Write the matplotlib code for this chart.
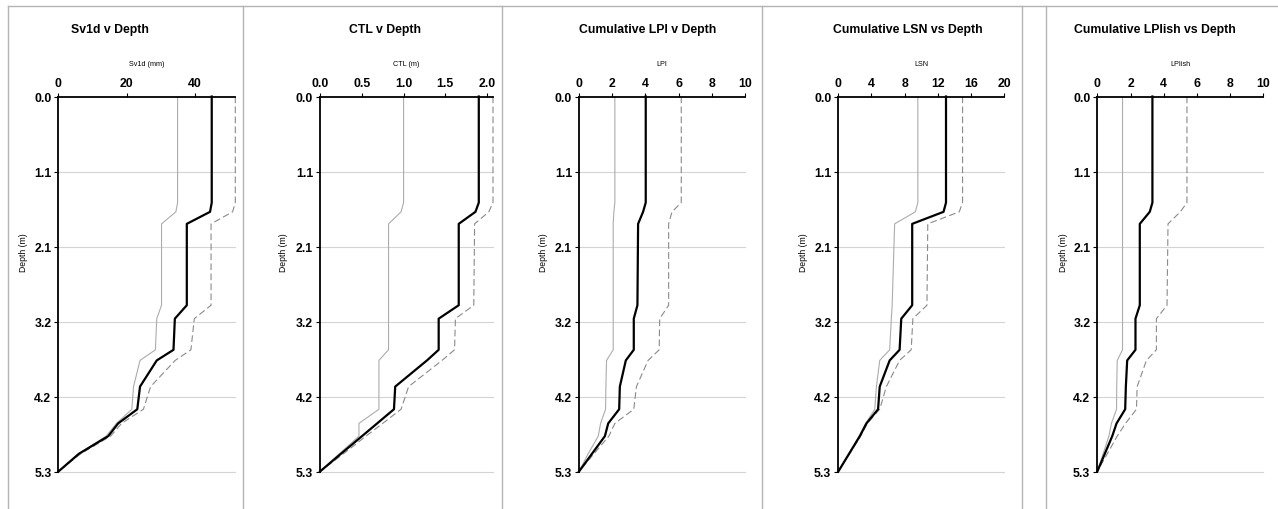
import matplotlib
matplotlib.use("Agg")
import matplotlib.pyplot as plt
from matplotlib.lines import Line2D
import numpy as np

plt.rcParams['font.family'] = ['Liberation Sans', 'DejaVu Sans']

# Depth stations (m) shared by every profile
depth = [0.0, 1.50, 1.63, 1.80, 2.95, 3.14, 3.58, 3.73, 4.10, 4.42, 4.62, 4.80, 5.05, 5.30]

# Sv1d (mm)
sv1d_mid = [44.9, 44.9, 44.4, 37.6, 37.6, 34.1, 33.7, 28.8, 23.9, 23.1, 17.5, 14.6, 6.0, 0]
sv1d_hi = [51.8, 51.8, 51.0, 44.7, 44.7, 39.8, 38.8, 34.2, 27.0, 24.9, 18.5, 15.3, 6.5, 0]
sv1d_lo = [34.9, 34.9, 34.4, 30.2, 30.2, 28.8, 28.4, 23.9, 22.0, 21.5, 17.0, 14.0, 5.8, 0]

# CTL (m)
ctl_mid = [1.90, 1.90, 1.86, 1.66, 1.66, 1.42, 1.42, 1.28, 0.90, 0.885, 0.684, 0.503, 0.25, 0]
ctl_hi = [2.07, 2.07, 2.02, 1.85, 1.84, 1.62, 1.61, 1.46, 1.06, 0.97, 0.75, 0.55, 0.28, 0]
ctl_lo = [1.00, 1.00, 0.97, 0.82, 0.82, 0.82, 0.82, 0.705, 0.705, 0.705, 0.466, 0.466, 0.23, 0]

# Cumulative LPI
lpi_mid = [4.02, 4.02, 3.86, 3.56, 3.52, 3.30, 3.30, 2.82, 2.46, 2.42, 1.76, 1.56, 0.78, 0]
lpi_hi = [6.16, 6.16, 5.60, 5.40, 5.40, 4.86, 4.83, 4.16, 3.46, 3.30, 2.16, 1.80, 0.90, 0]
lpi_lo = [2.16, 2.16, 2.10, 2.06, 2.06, 2.06, 2.06, 1.66, 1.62, 1.60, 1.30, 1.16, 0.55, 0]

# Cumulative LSN
lsn_mid = [13.0, 13.0, 12.7, 8.92, 8.92, 7.6, 7.4, 6.2, 5.0, 4.8, 3.4, 2.6, 1.3, 0]
lsn_hi = [15.0, 15.0, 14.6, 10.8, 10.7, 9.0, 8.8, 7.4, 5.8, 5.0, 3.5, 2.7, 1.35, 0]
lsn_lo = [9.6, 9.6, 9.3, 6.8, 6.5, 6.4, 6.2, 5.0, 4.6, 4.4, 3.3, 2.5, 1.25, 0]

# Cumulative LPIish
lpiish_mid = [3.32, 3.32, 3.16, 2.56, 2.56, 2.30, 2.30, 1.80, 1.72, 1.68, 1.16, 0.90, 0.45, 0]
lpiish_hi = [5.40, 5.40, 5.00, 4.26, 4.20, 3.56, 3.56, 2.96, 2.40, 2.36, 1.70, 1.20, 0.60, 0]
lpiish_lo = [1.52, 1.52, 1.52, 1.52, 1.52, 1.52, 1.52, 1.20, 1.17, 1.16, 0.85, 0.70, 0.35, 0]

titles = ["Sv1d v Depth", "CTL v Depth", "Cumulative LPI v Depth",
          "Cumulative LSN vs Depth", "Cumulative LPIish vs Depth"]
xlabels = ["Sv1d (mm)", "CTL (m)", "LPI", "LSN", "LPIish"]
xmaxes = [51.8, 2.07, 10, 20, 10]
xtick_sets = [[0, 20, 40], [0.0, 0.5, 1.0, 1.5, 2.0], [0, 2, 4, 6, 8, 10],
              [0, 4, 8, 12, 16, 20], [0, 2, 4, 6, 8, 10]]
xtick_fmt = ["{:.0f}", "{:.1f}", "{:.0f}", "{:.0f}", "{:.0f}"]
series = [(sv1d_lo, sv1d_hi, sv1d_mid), (ctl_lo, ctl_hi, ctl_mid),
          (lpi_lo, lpi_hi, lpi_mid), (lsn_lo, lsn_hi, lsn_mid),
          (lpiish_lo, lpiish_hi, lpiish_mid)]

W, H = 1278, 510
fig = plt.figure(figsize=(W / 100, H / 100), dpi=100)
fig.patch.set_facecolor("white")

# plot-area extents in pixels
ax_x = [(58.4, 235.3), (320.0, 493.0), (579.0, 745.0), (838.3, 1004.0), (1097.3, 1263.3)]
ax_top, ax_bot = 97.5, 472.5
title_x = [110, 385, 648, 908, 1155]
depth_label_x = [23, 283, 543, 803, 1063]

yt = np.linspace(0, 5.3, 6)

for i in range(5):
    x0, x1 = ax_x[i]
    ax = fig.add_axes([x0 / W, 1 - ax_bot / H, (x1 - x0) / W, (ax_bot - ax_top) / H])
    ax.set_xlim(0, xmaxes[i])
    ax.set_ylim(5.3, 0)
    ax.xaxis.tick_top()
    ax.set_xticks(xtick_sets[i])
    ax.set_xticklabels([xtick_fmt[i].format(v) for v in xtick_sets[i]],
                       fontsize=8.8, fontweight="bold")
    ax.set_yticks(yt)
    ax.set_yticklabels(["{:.1f}".format(v) for v in yt], fontsize=8.8, fontweight="bold")
    ax.tick_params(axis="both", direction="out", length=3, width=0.8, color="black", pad=2)
    ax.tick_params(axis="x", pad=2.5)
    for s in ("right", "bottom"):
        ax.spines[s].set_visible(False)
    for s in ("top", "left"):
        ax.spines[s].set_linewidth(1.3)
        ax.spines[s].set_color("black")
    for v in yt[1:]:
        ax.axhline(v, color="#d4d4d4", lw=0.8, zorder=0, clip_on=False)

    lo, hi, mid = series[i]
    ax.plot(lo, depth, color="#acacac", lw=0.8, clip_on=False, zorder=2)
    ax.plot(hi, depth, color="#8a8a8a", lw=0.8, ls=(0, (6, 3)), clip_on=False, zorder=2)
    ax.plot(mid, depth, color="black", lw=1.6, clip_on=False, zorder=3)

    fig.text(title_x[i] / W, 1 - 30 / H, titles[i], ha="center", va="center",
             fontsize=8.8, fontweight="bold")
    fig.text((x0 + x1) / 2 / W, 1 - 65 / H, xlabels[i], ha="center", va="center",
             fontsize=5.2)
    fig.text(depth_label_x[i] / W, 1 - 253 / H, "Depth (m)", ha="center", va="center",
             rotation=90, fontsize=6.2)

# panel frames
frame_color = "#b4b4b4"
for xv in (8, 243, 502, 762, 1022, 1046):
    fig.add_artist(Line2D([xv / W, xv / W], [0, 1 - 7 / H], color=frame_color, lw=1.0))
fig.add_artist(Line2D([8 / W, 1], [1 - 7 / H, 1 - 7 / H], color=frame_color, lw=1.0))

fig.savefig("out.png", dpi=100, facecolor="white")
